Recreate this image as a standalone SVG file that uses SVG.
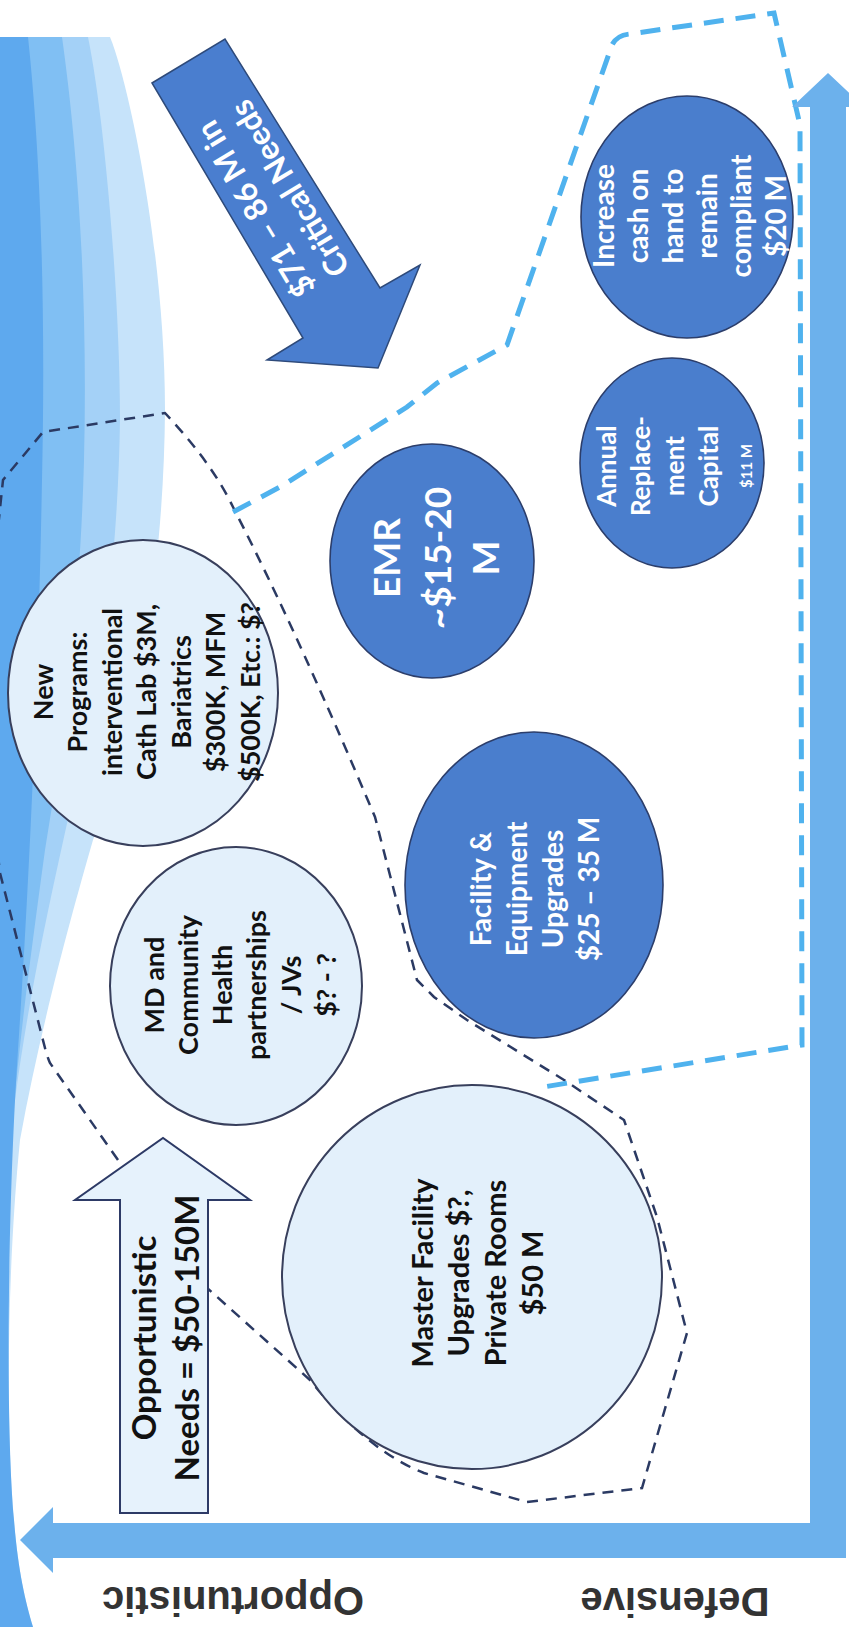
<svg xmlns="http://www.w3.org/2000/svg" width="849" height="1627" viewBox="0 0 849 1627">
<style>
.t{font-family:Lato,"Liberation Sans",sans-serif;font-weight:700;text-anchor:middle;dominant-baseline:central}
.dk{fill:#111}
.wh{fill:#fff}
.lc{fill:#e3f0fb;stroke:#383f5c;stroke-width:2}
.dc{fill:#4a7ecd;stroke:#2c3e6b;stroke-width:1.6}
.ax{fill:#6cb1ec}
.lab{font-family:"Liberation Sans",Arial,sans-serif;font-weight:700;font-size:40px;fill:#333;text-anchor:middle;dominant-baseline:central}
.dash1{fill:none;stroke:#2b3a63;stroke-width:2.5;stroke-dasharray:11 8}
.dash2{fill:none;stroke:#4fb2ee;stroke-width:5;stroke-dasharray:20 12}
</style>
<rect width="849" height="1627" fill="#fff"/>
<g id="background">
<path fill="#c6e3fa" d="M0,37 L110,37 C128,80 165,250 165,410 C164,560 140,720 93,840 C70,920 40,1030 20,1140 C8,1260 5,1420 14,1520 C18,1570 25,1600 33,1627 L0,1627 Z"/>
<path fill="#a4d1f7" d="M0,37 L88,37 C105,120 120,300 120,420 C118,560 100,700 70,810 C50,900 28,1000 15,1100 L0,1100 Z"/>
<path fill="#80bff3" d="M0,37 L62,37 C78,150 88,300 84,460 C80,620 60,760 45,850 C30,960 18,1050 10,1150 L0,1150 Z"/>
<path fill="#5ea9ee" d="M0,37 L28,37 C40,150 46,300 42,480 C38,700 28,900 18,1050 C8,1200 5,1420 14,1520 C18,1570 25,1600 33,1627 L0,1627 Z"/>
</g>
<g id="regions">
<path class="dash1" d="M118,1160 L50,1063 Q47,1056 45,1048 L0,873 L-20,700 L3,480 L43,432 L165,413 C190,440 215,470 233,507 C260,560 300,640 375,817 L417,980 L434,997 L467,1020 L564,1080 L624,1120 L657,1217 L687,1333 L642,1488 L527,1502 L424,1473 C390,1460 350,1430 310,1380 L206,1287"/>
<path class="dash2" d="M233,512 L280,487 L407,407 L437,383 L507,345 L612,45 Q617,35 630,34 L774,13 L800,125 L802,1045 L537,1088"/>
</g>
<g id="connectors">
<path id="axis-horizontal" class="ax" d="M846,1523 L53,1523 L53,1507 L20,1540 L53,1573 L53,1558 L846,1558 Z"/>
<path id="axis-vertical" class="ax" d="M810,1558 L810,107 L792,107 L828,73 L864,107 L846,107 L846,1558 Z"/>
</g>
<g id="label-opportunistic"><text class="lab" transform="translate(233,1601) rotate(180)">Opportunistic</text></g>
<g id="label-defensive"><text class="lab" transform="translate(675,1602) rotate(180)">Defensive</text></g>
<g id="critical-arrow">
<polygon points="152,83 225,39 380,288 420,265 378,368 267,360 303,338" fill="#4a7ecf" stroke="#2e4a7a" stroke-width="1.5"/>
<g transform="translate(271.5,199.5) rotate(-121)">
<text class="t wh" font-size="32" x="0" y="-20">$71 – 86 M in</text>
<text class="t wh" font-size="32" x="0" y="20">Critical Needs</text>
</g>
</g>
<g id="opportunistic-arrow">
<polygon points="120,1513 120,1200 75,1200 163,1138 250,1200 208,1200 208,1513" fill="#e6f2fc" stroke="#2d3a66" stroke-width="2"/>
<g transform="translate(0,1338) rotate(-90)">
<text class="t dk" font-size="33" x="0" y="143">Opportunistic</text>
<text class="t dk" font-size="33" x="0" y="186">Needs = $50-150M</text>
</g>
</g>
<g id="node-new-programs">
<ellipse class="lc" cx="143" cy="693" rx="135" ry="153"/>
<g transform="translate(0,692) rotate(-90)" class="t dk" font-size="27">
<text x="0" y="42">New</text>
<text x="0" y="76.5">Programs:</text>
<text x="0" y="111">interventional</text>
<text x="0" y="145.5">Cath Lab $3M,</text>
<text x="0" y="180">Bariatrics</text>
<text x="0" y="214.5">$300K, MFM</text>
<text x="0" y="249">$500K, Etc.: $?</text>
</g>
</g>
<g id="node-md-community">
<ellipse class="lc" cx="236" cy="986" rx="126" ry="139"/>
<g transform="translate(0,985) rotate(-90)" class="t dk" font-size="27">
<text x="0" y="153">MD and</text>
<text x="0" y="187">Community</text>
<text x="0" y="221">Health</text>
<text x="0" y="255">partnerships</text>
<text x="0" y="290">/ JVs</text>
<text x="0" y="325">$? - ?</text>
</g>
</g>
<g id="node-master-facility">
<ellipse class="lc" cx="472" cy="1277" rx="190" ry="192"/>
<g transform="translate(0,1273) rotate(-90)" class="t dk" font-size="29">
<text x="0" y="421">Master Facility</text>
<text x="0" y="457">Upgrades $?,</text>
<text x="0" y="494">Private Rooms</text>
<text x="0" y="531">$50 M</text>
</g>
</g>
<g id="node-emr">
<ellipse class="dc" cx="432" cy="561" rx="102" ry="117"/>
<g transform="translate(0,558) rotate(-90)" class="t wh" font-size="37">
<text x="0" y="385">EMR</text>
<text x="0" y="436">~$15-20</text>
<text x="0" y="484">M</text>
</g>
</g>
<g id="node-facility-equipment">
<ellipse class="dc" cx="534" cy="885" rx="129" ry="153"/>
<g transform="translate(0,889) rotate(-90)" class="t wh" font-size="28">
<text x="0" y="480">Facility &amp;</text>
<text x="0" y="516">Equipment</text>
<text x="0" y="552">Upgrades</text>
<text x="0" y="588">$25 – 35 M</text>
</g>
</g>
<g id="node-annual-replacement">
<ellipse class="dc" cx="672" cy="463" rx="92" ry="105"/>
<g transform="translate(0,466) rotate(-90)" class="t wh" font-size="26">
<text x="0" y="606">Annual</text>
<text x="0" y="640">Replace-</text>
<text x="0" y="674">ment</text>
<text x="0" y="708">Capital</text>
<text x="0" y="746" font-size="15">$11 M</text>
</g>
</g>
<g id="node-increase-cash">
<ellipse class="dc" cx="687" cy="217" rx="106" ry="121"/>
<g transform="translate(0,216) rotate(-90)" class="t wh" font-size="28">
<text x="0" y="603">Increase</text>
<text x="0" y="637">cash on</text>
<text x="0" y="672">hand to</text>
<text x="0" y="706">remain</text>
<text x="0" y="740">compliant</text>
<text x="0" y="775">$20 M</text>
</g>
</g>
</svg>
